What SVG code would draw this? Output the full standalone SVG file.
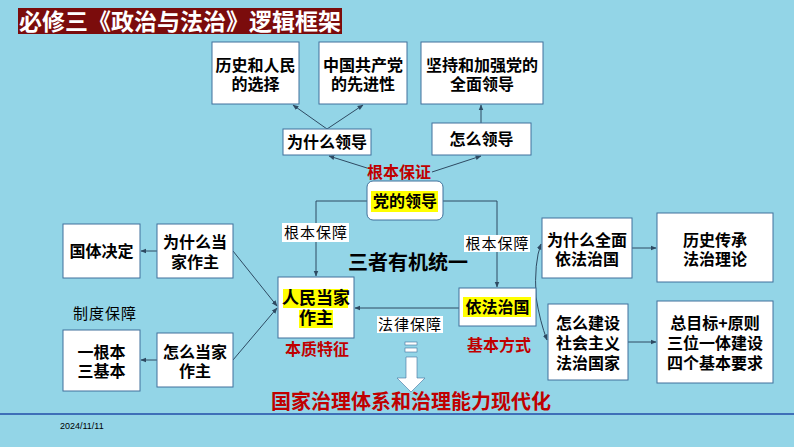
<svg xmlns="http://www.w3.org/2000/svg" width="794" height="447" viewBox="0 0 794 447">
<defs>
<marker id="ah" viewBox="0 0 10 10" refX="9" refY="5" markerWidth="6" markerHeight="6" orient="auto" markerUnits="userSpaceOnUse">
<path d="M0,1 L10,5 L0,9 z" fill="#2E4A62"/>
</marker>
<style>
.box{fill:#fff;stroke:#41719C;stroke-width:1}
.t{font-family:"Noto Sans CJK SC","Noto Sans",sans-serif;font-weight:bold;font-size:16px;fill:#000;text-anchor:middle}
.red{fill:#C00000}
.lbl{font-family:"Noto Sans CJK SC",serif;font-weight:normal;font-size:15px;fill:#000;text-anchor:middle;letter-spacing:1px}
.hl{fill:#FFFF00}
.c{fill:none;stroke:#2E4A62;stroke-width:1;marker-end:url(#ah)}
</style>
</defs>
<rect width="794" height="447" fill="#93D5E7"/>
<g id="title">
<rect x="18" y="8" width="324" height="26" fill="#7B0C0C"/>
<text x="180" y="30" class="t" style="font-size:23px;fill:#fff">必修三《政治与法治》逻辑框架</text>
</g>
<g id="connectors">
<line class="c" x1="327" y1="129" x2="293" y2="105"/>
<line class="c" x1="327" y1="129" x2="363" y2="105"/>
<line class="c" x1="481" y1="123" x2="481" y2="105"/>
<line class="c" x1="367" y1="168" x2="329" y2="156"/>
<line class="c" x1="432" y1="172" x2="481" y2="156"/>
<polyline class="c" points="367,201 316,201 316,276"/>
<polyline class="c" points="443,201 497,201 497,287"/>
<line class="c" x1="459" y1="308" x2="355" y2="308"/>
<line class="c" x1="157" y1="251" x2="141" y2="251"/>
<line class="c" x1="157" y1="360" x2="141" y2="360"/>
<line class="c" x1="233" y1="251" x2="277" y2="306"/>
<line class="c" x1="233" y1="360" x2="277" y2="308"/>
<line class="c" x1="632" y1="248" x2="656" y2="248"/>
<line class="c" x1="628" y1="342" x2="656" y2="342"/>
<path class="c" d="M536,297 Q534,262 541,244"/>
<path class="c" d="M536,297 Q540,322 547,340"/>
</g>
<g id="n_lishi">
<rect class="box" x="212" y="42" width="87" height="62"/>
<text class="t" x="255.5" y="71">历史和人民<tspan x="255.5" dy="19">的选择</tspan></text>
</g>
<g id="n_zhongguo">
<rect class="box" x="319" y="42" width="88" height="62"/>
<text class="t" x="363" y="71">中国共产党<tspan x="363" dy="19">的先进性</tspan></text>
</g>
<g id="n_jianchi">
<rect class="box" x="421" y="42" width="122" height="62"/>
<text class="t" x="482" y="71">坚持和加强党的<tspan x="482" dy="19">全面领导</tspan></text>
</g>
<g id="n_weishenme_lingdao">
<rect class="box" x="283" y="129" width="88" height="26"/>
<text class="t" x="327" y="148">为什么领导</text>
</g>
<g id="n_zenme_lingdao">
<rect class="box" x="432" y="123" width="99" height="32"/>
<text class="t" x="481.5" y="145">怎么领导</text>
</g>
<g id="n_dang">
<text class="t red" x="399" y="178">根本保证</text>
<rect class="box" x="367" y="181" width="76" height="39" rx="6"/>
<rect class="hl" x="371" y="191" width="67" height="21"/>
<text class="t" x="405" y="207">党的领导</text>
</g>
<g id="l_genben1">
<rect x="282" y="223" width="67" height="19" fill="#fff"/>
<text class="lbl" x="316" y="238">根本保障</text>
</g>
<g id="l_genben2">
<rect x="464" y="235" width="66" height="17" fill="#fff"/>
<text class="lbl" x="497.5" y="249">根本保障</text>
</g>
<text class="t" x="408" y="270" style="font-size:20px">三者有机统一</text>
<g id="n_renmin">
<rect class="box" x="278" y="277" width="76" height="61"/>
<rect class="hl" x="283" y="289" width="65" height="19"/>
<rect class="hl" x="299" y="310" width="34" height="18"/>
<text class="t" x="316" y="304" style="font-size:17px">人民当家<tspan x="316" dy="20">作主</tspan></text>
<text class="t red" x="317" y="355">本质特征</text>
</g>
<g id="n_yifa">
<rect class="box" x="459" y="288" width="77" height="38"/>
<rect class="hl" x="463" y="297" width="68" height="20"/>
<text class="t" x="497.5" y="313">依法治国</text>
<text class="t red" x="499" y="351">基本方式</text>
</g>
<g id="l_falv">
<rect x="377" y="316" width="66" height="17" fill="#fff"/>
<text class="lbl" x="410" y="330">法律保障</text>
</g>
<g id="arrow_down">
<rect x="405" y="342" width="12" height="3" fill="#fff" stroke="#41719C" stroke-width="0.6"/>
<rect x="405" y="348" width="12" height="4" fill="#fff" stroke="#41719C" stroke-width="0.6"/>
<path d="M406,357 H417 V378 H425 L411,392 L397,378 H406 Z" fill="#fff" stroke="#41719C" stroke-width="0.6"/>
</g>
<text class="t red" x="411" y="409" style="font-size:20px">国家治理体系和治理能力现代化</text>
<g id="n_weishenme_dangjia">
<rect class="box" x="157" y="224" width="76" height="54"/>
<text class="t" x="195" y="248">为什么当<tspan x="195" dy="20">家作主</tspan></text>
</g>
<g id="n_guoti">
<rect class="box" x="63" y="224" width="77" height="54"/>
<text class="t" x="101.5" y="257">国体决定</text>
</g>
<text class="lbl" x="105" y="319">制度保障</text>
<g id="n_zenme_dangjia">
<rect class="box" x="157" y="333" width="76" height="54"/>
<text class="t" x="195" y="358">怎么当家<tspan x="195" dy="19">作主</tspan></text>
</g>
<g id="n_yigenben">
<rect class="box" x="63" y="330" width="77" height="61"/>
<text class="t" x="101.5" y="358">一根本<tspan x="101.5" dy="19">三基本</tspan></text>
</g>
<g id="n_weishenme_quanmian">
<rect class="box" x="542" y="218" width="90" height="60"/>
<text class="t" x="587" y="246">为什么全面<tspan x="587" dy="19">依法治国</tspan></text>
</g>
<g id="n_lishi_chuancheng">
<rect class="box" x="657" y="213" width="116" height="69"/>
<text class="t" x="715" y="246">历史传承<tspan x="715" dy="19">法治理论</tspan></text>
</g>
<g id="n_zenme_jianshe">
<rect class="box" x="548" y="304" width="80" height="76"/>
<text class="t" x="588" y="329">怎么建设<tspan x="588" dy="20">社会主义</tspan><tspan x="588" dy="20">法治国家</tspan></text>
</g>
<g id="n_zongmubiao">
<rect class="box" x="657" y="301" width="116" height="82"/>
<text class="t" x="715" y="329">总目标+原则<tspan x="715" dy="20">三位一体建设</tspan><tspan x="715" dy="20">四个基本要求</tspan></text>
</g>
<line x1="0" y1="414" x2="794" y2="414" stroke="#3E6FB8" stroke-width="2"/>
<text x="60" y="429" style="font-family:'Liberation Sans',sans-serif;font-size:9px;fill:#000">2024/11/11</text>
</svg>
